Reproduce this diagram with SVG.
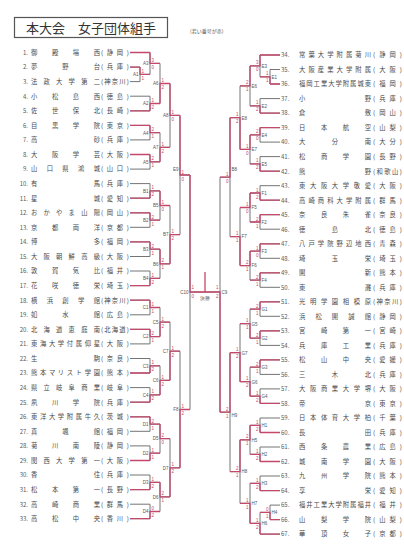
<svg xmlns="http://www.w3.org/2000/svg" width="404" height="554" viewBox="0 0 404 554">
<style>
.g{fill:none;stroke:#747474;stroke-width:1}
.r{fill:none;stroke:#c4486a;stroke-width:1.3}
text{font-family:"Noto Sans CJK JP","Noto Sans",sans-serif}
.no{font-size:6px;fill:#5a5a5a;text-anchor:end}
.nr{font-size:6px;fill:#5a5a5a}
.nm,.pf{font-size:6.3px;fill:#4a4a4a}
.lb{font-family:"Liberation Sans",sans-serif;font-size:4.5px;fill:#555}
.le{text-anchor:end}
.sc{font-family:"Liberation Sans",sans-serif;font-size:4.5px;fill:#c4486a}
</style>
<rect width="404" height="554" fill="#fff"/>
<g id="title">
<rect x="14.5" y="17.5" width="153" height="20" fill="none" stroke="#555" stroke-width="1.2"/>
<text x="91" y="33" font-size="13" fill="#333" text-anchor="middle">本大会　女子団体組手</text>
<text x="190" y="33" font-size="5" fill="#555">(若い番号が赤)</text>
</g>
<g id="connectors">
<path class="g" d="M130 52.5H150M130 67.1H140M130 81.6H140M130 96.2H150M130 110.8H150M130 125.4H150M130 139.9H150M130 154.5H150M130 169.1H150M130 183.6H150M130 198.2H150M130 212.8H150M130 227.3H150M130 241.9H150M130 256.5H150M130 271H150M130 285.6H150M130 300.2H150M130 314.8H150M130 329.3H150M130 343.9H150M130 358.5H150M130 373H150M130 387.6H150M130 402.2H150M130 416.8H150M130 431.3H150M130 445.9H150M130 460.5H150M130 475H150M130 489.6H150M130 504.2H150M130 518.7H150"/>
<path class="g" d="M140 67.1V81.6M140 74.4H150M150 52.5V74.4M150 63.4H160M150 96.2V110.8M150 103.5H160M150 125.4V139.9M150 132.7H160M150 154.5V169.1M150 161.8H160M160 63.4V103.5M160 83.5H170M160 132.7V161.8M160 147.3H170M170 83.5V147.3M170 115.4H180M150 183.6V198.2M150 190.9H160M150 212.8V227.3M150 220.1H160M150 241.9V256.5M150 249.2H160M150 271V285.6M150 278.3H160M160 190.9V220.1M160 205.5H170M160 249.2V278.3M160 263.8H170M170 205.5V263.8M170 234.6H180M180 115.4V234.6M180 175H190M150 300.2V314.8M150 307.5H160M150 329.3V343.9M150 336.6H160M150 358.5V373M150 365.8H160M150 387.6V402.2M150 394.9H160M160 307.5V336.6M160 322.1H170M160 365.8V394.9M160 380.3H170M170 322.1V380.3M170 351.2H180M150 416.8V431.3M150 424.1H160M150 445.9V460.5M150 453.2H160M150 475V489.6M150 482.3H160M150 504.2V518.7M150 511.5H160M160 424.1V453.2M160 438.6H170M160 482.3V511.5M160 496.9H170M170 438.6V496.9M170 467.8H180M180 351.2V467.8M180 409.5H190M190 175V409.5M190 292H220M220 177.2V412.2"/>
<path class="g" d="M280 55H260M280 69.5H270M280 84H270M280 98.6H260M280 113.1H260M280 127.6H260M280 142.1H260M280 156.6H260M280 171.2H260M280 185.7H260M280 200.2H260M280 214.7H260M280 229.2H260M280 243.8H260M280 258.3H260M280 272.8H260M280 287.3H260M280 301.8H260M280 316.3H260M280 330.9H260M280 345.4H260M280 359.9H260M280 374.4H260M280 388.9H260M280 403.4H260M280 418H260M280 432.5H260M280 447H260M280 461.5H260M280 476H260M280 490.6H260M280 505.1H270M280 519.6H270M280 534.1H260"/>
<path class="g" d="M270 69.5V84M270 76.8H260M260 55V76.8M260 65.9H250M260 98.6V113.1M260 105.9H250M260 127.6V142.1M260 134.9H250M260 156.6V171.2M260 163.9H250M250 65.9V105.9M250 85.9H240M250 134.9V163.9M250 149.4H240M240 85.9V149.4M240 117.7H230M260 185.7V200.2M260 193H250M260 214.7V229.2M260 222H250M260 243.8V258.3M260 251.1H250M260 272.8V287.3M260 280.1H250M250 193V222M250 207.5H240M250 251.1V280.1M250 265.6H240M240 207.5V265.6M240 236.6H230M230 117.7V236.6M230 177.2H220M260 301.8V316.3M260 309.1H250M260 330.9V345.4M260 338.2H250M260 359.9V374.4M260 367.2H250M260 388.9V403.4M260 396.2H250M250 309.1V338.2M250 323.7H240M250 367.2V396.2M250 381.7H240M240 323.7V381.7M240 352.7H230M260 418V432.5M260 425.3H250M260 447V461.5M260 454.3H250M260 476V490.6M260 483.3H250M270 505.1V519.6M270 512.4H260M260 512.4V534.1M260 523.3H250M250 425.3V454.3M250 439.8H240M250 483.3V523.3M250 503.3H240M240 439.8V503.3M240 471.6H230M230 352.7V471.6M230 412.2H220"/>
<path class="r" d="M130 52.5H150M130 67.1H140M130 110.8H150M130 125.4H150M130 154.5H150M130 198.2H150M130 212.8H150M130 241.9H150M130 285.6H150M130 300.2H150M130 329.3H150M130 373H150M130 402.2H150M130 416.8H150M130 460.5H150M130 489.6H150M130 518.7H150"/>
<path class="r" d="M140 67.1V74.4H150M150 52.5V63.4H160M150 110.8V103.5H160M150 125.4V132.7H160M150 154.5V161.8H160M160 103.5V83.5H170M160 161.8V147.3H170M170 83.5V115.4H180M150 198.2V190.9H160M150 212.8V220.1H160M150 241.9V249.2H160M150 285.6V278.3H160M160 190.9V205.5H170M160 249.2V263.8H170M170 263.8V234.6H180M180 115.4V175H190M150 300.2V307.5H160M150 329.3V336.6H160M150 373V365.8H160M150 402.2V394.9H160M160 336.6V322.1H170M160 394.9V380.3H170M170 380.3V351.2H180M150 416.8V424.1H160M150 460.5V453.2H160M150 489.6V482.3H160M150 518.7V511.5H160M160 424.1V438.6H170M160 482.3V496.9H170M170 496.9V467.8H180M180 467.8V409.5H190M190 175V292H205"/>
<path class="r" d="M280 55H260M280 84H270M280 113.1H260M280 127.6H260M280 171.2H260M280 200.2H260M280 214.7H260M280 243.8H260M280 272.8H260M280 301.8H260M280 330.9H260M280 359.9H260M280 403.4H260M280 432.5H260M280 461.5H260M280 490.6H260M280 519.6H270M280 534.1H260"/>
<path class="r" d="M270 84V76.8H260M260 55V65.9H250M260 113.1V105.9H250M260 127.6V134.9H250M260 171.2V163.9H250M250 65.9V85.9H240M250 134.9V149.4H240M240 149.4V117.7H230M260 200.2V193H250M260 214.7V222H250M260 243.8V251.1H250M260 272.8V280.1H250M250 193V207.5H240M250 251.1V265.6H240M240 265.6V236.6H230M230 117.7V177.2H220M260 301.8V309.1H250M260 330.9V338.2H250M260 359.9V367.2H250M260 403.4V396.2H250M250 338.2V323.7H240M250 396.2V381.7H240M240 381.7V352.7H230M260 432.5V425.3H250M260 461.5V454.3H250M260 490.6V483.3H250M270 519.6V512.4H260M260 534.1V523.3H250M250 425.3V439.8H240M250 523.3V503.3H240M240 439.8V471.6H230M230 352.7V412.2H220M220 412.2V292H205M205 292V272"/>
</g>
<g id="match-labels">
<text class="lb le" x="138.5" y="76.2">A1</text><text class="lb le" x="148.5" y="65.2">A3</text><text class="lb le" x="148.5" y="105.3">A2</text><text class="lb le" x="148.5" y="134.5">A4</text><text class="lb le" x="148.5" y="163.6">A5</text><text class="lb le" x="158.5" y="85.3">A6</text><text class="lb le" x="158.5" y="149.1">A7</text><text class="lb le" x="168.5" y="117.2">A8</text>
<text class="lb le" x="148.5" y="192.7">B1</text><text class="lb le" x="148.5" y="221.9">B2</text><text class="lb le" x="148.5" y="251">B3</text><text class="lb le" x="148.5" y="280.1">B4</text><text class="lb le" x="158.5" y="207.3">B5</text><text class="lb le" x="158.5" y="265.6">B6</text><text class="lb le" x="168.5" y="236.4">B7</text><text class="lb le" x="178.5" y="171">E9</text>
<text class="lb le" x="148.5" y="309.3">C1</text><text class="lb le" x="148.5" y="338.4">C2</text><text class="lb le" x="148.5" y="367.6">C3</text><text class="lb le" x="148.5" y="396.7">C4</text><text class="lb le" x="158.5" y="323.9">C5</text><text class="lb le" x="158.5" y="382.1">C6</text><text class="lb le" x="168.5" y="353">C7</text>
<text class="lb le" x="148.5" y="425.9">D1</text><text class="lb le" x="148.5" y="455">D2</text><text class="lb le" x="148.5" y="484.1">D3</text><text class="lb le" x="148.5" y="513.3">D4</text><text class="lb le" x="158.5" y="440.4">D5</text><text class="lb le" x="158.5" y="498.7">D6</text><text class="lb le" x="168.5" y="469.6">D7</text><text class="lb le" x="178.5" y="411.3">F8</text>
<text class="lb le" x="188.5" y="294">C10</text><text class="lb" x="221.5" y="294">C9</text><text class="lb" x="205" y="300" text-anchor="middle">決勝</text>
<text class="lb" x="271.5" y="78.6">E1</text><text class="lb" x="261.5" y="67.7">E3</text><text class="lb" x="261.5" y="107.7">E2</text><text class="lb" x="261.5" y="136.7">E4</text><text class="lb" x="261.5" y="165.7">E5</text><text class="lb" x="251.5" y="87.7">E6</text><text class="lb" x="251.5" y="151.2">E7</text><text class="lb" x="241.5" y="119.5">E8</text>
<text class="lb" x="261.5" y="194.8">F1</text><text class="lb" x="261.5" y="223.8">F2</text><text class="lb" x="261.5" y="252.9">F3</text><text class="lb" x="261.5" y="281.9">F4</text><text class="lb" x="251.5" y="209.3">F5</text><text class="lb" x="251.5" y="267.4">F6</text><text class="lb" x="241.5" y="238.4">F7</text><text class="lb" x="231.5" y="171">B8</text>
<text class="lb" x="261.5" y="310.9">G1</text><text class="lb" x="261.5" y="340">G2</text><text class="lb" x="261.5" y="369">G3</text><text class="lb" x="261.5" y="398">G4</text><text class="lb" x="251.5" y="325.5">G5</text><text class="lb" x="251.5" y="383.5">G6</text><text class="lb" x="241.5" y="354.5">G7</text>
<text class="lb" x="261.5" y="427.1">H1</text><text class="lb" x="261.5" y="456.1">H2</text><text class="lb" x="261.5" y="485.1">H3</text><text class="lb" x="271.5" y="514.2">H4</text><text class="lb" x="261.5" y="525.1">H6</text><text class="lb" x="251.5" y="441.6">H5</text><text class="lb" x="251.5" y="505.1">H7</text><text class="lb" x="241.5" y="473.4">H8</text><text class="lb" x="231.5" y="417">H9</text>
</g>
<g id="scores">
<text class="sc" x="141.5" y="72.9">1</text><text class="sc" x="141.5" y="79.9">1</text>
<text class="sc" x="151.5" y="61.9">3</text><text class="sc" x="151.5" y="68.9">0</text>
<text class="sc" x="151.5" y="102">1</text><text class="sc" x="151.5" y="109">2</text>
<text class="sc" x="151.5" y="131.2">2</text><text class="sc" x="151.5" y="138.2">1</text>
<text class="sc" x="151.5" y="160.3">2</text><text class="sc" x="151.5" y="167.3">1</text>
<text class="sc" x="161.5" y="82">1</text><text class="sc" x="161.5" y="89">2</text>
<text class="sc" x="161.5" y="145.8">1</text><text class="sc" x="161.5" y="152.8">2</text>
<text class="sc" x="171.5" y="113.9">1</text><text class="sc" x="171.5" y="120.9">0</text>
<text class="sc" x="151.5" y="189.4">1</text><text class="sc" x="151.5" y="196.4">2</text>
<text class="sc" x="151.5" y="218.6">2</text><text class="sc" x="151.5" y="225.6">1</text>
<text class="sc" x="151.5" y="247.7">2</text><text class="sc" x="151.5" y="254.7">1</text>
<text class="sc" x="151.5" y="276.8">1</text><text class="sc" x="151.5" y="283.8">2</text>
<text class="sc" x="161.5" y="204">1</text><text class="sc" x="161.5" y="211">0</text>
<text class="sc" x="161.5" y="262.3">2</text><text class="sc" x="161.5" y="269.3">1</text>
<text class="sc" x="171.5" y="233.1">1</text><text class="sc" x="171.5" y="240.1">2</text>
<text class="sc" x="181.5" y="173.5">1</text><text class="sc" x="181.5" y="180.5">0</text>
<text class="sc" x="151.5" y="306">1</text><text class="sc" x="151.5" y="313">1</text>
<text class="sc" x="151.5" y="335.1">2</text><text class="sc" x="151.5" y="342.1">1</text>
<text class="sc" x="151.5" y="364.3">1</text><text class="sc" x="151.5" y="371.3">2</text>
<text class="sc" x="151.5" y="393.4">1</text><text class="sc" x="151.5" y="400.4">2</text>
<text class="sc" x="161.5" y="320.6">1</text><text class="sc" x="161.5" y="327.6">2</text>
<text class="sc" x="161.5" y="378.8">1</text><text class="sc" x="161.5" y="385.8">2</text>
<text class="sc" x="171.5" y="349.7">1</text><text class="sc" x="171.5" y="356.7">2</text>
<text class="sc" x="151.5" y="422.6">2</text><text class="sc" x="151.5" y="429.6">1</text>
<text class="sc" x="151.5" y="451.7">1</text><text class="sc" x="151.5" y="458.7">1</text>
<text class="sc" x="151.5" y="480.8">1</text><text class="sc" x="151.5" y="487.8">2</text>
<text class="sc" x="151.5" y="510">0</text><text class="sc" x="151.5" y="517">2</text>
<text class="sc" x="161.5" y="437.1">2</text><text class="sc" x="161.5" y="444.1">0</text>
<text class="sc" x="161.5" y="495.4">2</text><text class="sc" x="161.5" y="502.4">1</text>
<text class="sc" x="171.5" y="466.3">1</text><text class="sc" x="171.5" y="473.3">2</text>
<text class="sc" x="181.5" y="408">1</text><text class="sc" x="181.5" y="415">2</text>
<text class="sc" x="191.5" y="289">1</text><text class="sc" x="191.5" y="298">0</text>
<text class="sc" x="218.5" y="289" text-anchor="end">1</text><text class="sc" x="218.5" y="298" text-anchor="end">2</text>
<g text-anchor="end">
<text class="sc" x="268.5" y="75.3">1</text><text class="sc" x="268.5" y="82.3">1</text>
<text class="sc" x="258.5" y="64.4">3</text><text class="sc" x="258.5" y="71.4">0</text>
<text class="sc" x="258.5" y="104.4">1</text><text class="sc" x="258.5" y="111.4">2</text>
<text class="sc" x="258.5" y="133.4">2</text><text class="sc" x="258.5" y="140.4">0</text>
<text class="sc" x="258.5" y="162.4">1</text><text class="sc" x="258.5" y="169.4">2</text>
<text class="sc" x="248.5" y="84.4">2</text><text class="sc" x="248.5" y="91.4">1</text>
<text class="sc" x="248.5" y="147.9">1</text><text class="sc" x="248.5" y="154.9">0</text>
<text class="sc" x="238.5" y="116.2">1</text><text class="sc" x="238.5" y="123.2">2</text>
<text class="sc" x="258.5" y="191.5">1</text><text class="sc" x="258.5" y="198.5">2</text>
<text class="sc" x="258.5" y="220.5">2</text><text class="sc" x="258.5" y="227.5">1</text>
<text class="sc" x="258.5" y="249.6">1</text><text class="sc" x="258.5" y="256.6">0</text>
<text class="sc" x="258.5" y="278.6">2</text><text class="sc" x="258.5" y="285.6">1</text>
<text class="sc" x="248.5" y="206">1</text><text class="sc" x="248.5" y="213">0</text>
<text class="sc" x="248.5" y="264.1">2</text><text class="sc" x="248.5" y="271.1">1</text>
<text class="sc" x="238.5" y="235.1">1</text><text class="sc" x="238.5" y="242.1">1</text>
<text class="sc" x="228.5" y="175.7">1</text><text class="sc" x="228.5" y="182.7">0</text>
<text class="sc" x="258.5" y="307.6">2</text><text class="sc" x="258.5" y="314.6">1</text>
<text class="sc" x="258.5" y="336.7">2</text><text class="sc" x="258.5" y="343.7">1</text>
<text class="sc" x="258.5" y="365.7">2</text><text class="sc" x="258.5" y="372.7">1</text>
<text class="sc" x="258.5" y="394.7">1</text><text class="sc" x="258.5" y="401.7">2</text>
<text class="sc" x="248.5" y="322.2">1</text><text class="sc" x="248.5" y="329.2">1</text>
<text class="sc" x="248.5" y="380.2">1</text><text class="sc" x="248.5" y="387.2">2</text>
<text class="sc" x="238.5" y="351.2">1</text><text class="sc" x="238.5" y="358.2">2</text>
<text class="sc" x="258.5" y="423.8">1</text><text class="sc" x="258.5" y="430.8">2</text>
<text class="sc" x="258.5" y="452.8">1</text><text class="sc" x="258.5" y="459.8">2</text>
<text class="sc" x="258.5" y="481.8">1</text><text class="sc" x="258.5" y="488.8">2</text>
<text class="sc" x="268.5" y="510.9">0</text><text class="sc" x="268.5" y="517.9">1</text>
<text class="sc" x="258.5" y="521.8">1</text><text class="sc" x="258.5" y="528.8">2</text>
<text class="sc" x="248.5" y="438.3">2</text><text class="sc" x="248.5" y="445.3">1</text>
<text class="sc" x="248.5" y="501.8">1</text><text class="sc" x="248.5" y="508.8">1</text>
<text class="sc" x="238.5" y="470.1">2</text><text class="sc" x="238.5" y="477.1">1</text>
<text class="sc" x="228.5" y="410.7">2</text><text class="sc" x="228.5" y="417.7">1</text>
</g>
</g>
<g id="t1"><text class="no" x="28" y="54.8">1.</text><text class="nm" x="31" y="54.8" textLength="69">御殿場西</text><text class="pf" x="101" y="54.8" textLength="28">(静岡)</text></g>
<g id="t2"><text class="no" x="28" y="69.4">2.</text><text class="nm" x="31" y="69.4" textLength="69">夢野台</text><text class="pf" x="101" y="69.4" textLength="28">(兵庫)</text></g>
<g id="t3"><text class="no" x="28" y="83.9">3.</text><text class="nm" x="31" y="83.9" textLength="69">法政大学第二</text><text class="pf" x="101" y="83.9" textLength="28">(神奈川)</text></g>
<g id="t4"><text class="no" x="28" y="98.5">4.</text><text class="nm" x="31" y="98.5" textLength="69">小松島西</text><text class="pf" x="101" y="98.5" textLength="28">(徳島)</text></g>
<g id="t5"><text class="no" x="28" y="113.1">5.</text><text class="nm" x="31" y="113.1" textLength="69">佐世保北</text><text class="pf" x="101" y="113.1" textLength="28">(長崎)</text></g>
<g id="t6"><text class="no" x="28" y="127.7">6.</text><text class="nm" x="31" y="127.7" textLength="69">目黒学院</text><text class="pf" x="101" y="127.7" textLength="28">(東京)</text></g>
<g id="t7"><text class="no" x="28" y="142.2">7.</text><text class="nm" x="31" y="142.2" textLength="69">高砂</text><text class="pf" x="101" y="142.2" textLength="28">(兵庫)</text></g>
<g id="t8"><text class="no" x="28" y="156.8">8.</text><text class="nm" x="31" y="156.8" textLength="69">大阪学芸</text><text class="pf" x="101" y="156.8" textLength="28">(大阪)</text></g>
<g id="t9"><text class="no" x="28" y="171.4">9.</text><text class="nm" x="31" y="171.4" textLength="69">山口県鴻城</text><text class="pf" x="101" y="171.4" textLength="28">(山口)</text></g>
<g id="t10"><text class="no" x="28" y="185.9">10.</text><text class="nm" x="31" y="185.9" textLength="69">有馬</text><text class="pf" x="101" y="185.9" textLength="28">(兵庫)</text></g>
<g id="t11"><text class="no" x="28" y="200.5">11.</text><text class="nm" x="31" y="200.5" textLength="69">星城</text><text class="pf" x="101" y="200.5" textLength="28">(愛知)</text></g>
<g id="t12"><text class="no" x="28" y="215.1">12.</text><text class="nm" x="31" y="215.1" textLength="69">おかやま山陽</text><text class="pf" x="101" y="215.1" textLength="28">(岡山)</text></g>
<g id="t13"><text class="no" x="28" y="229.6">13.</text><text class="nm" x="31" y="229.6" textLength="69">京都両洋</text><text class="pf" x="101" y="229.6" textLength="28">(京都)</text></g>
<g id="t14"><text class="no" x="28" y="244.2">14.</text><text class="nm" x="31" y="244.2" textLength="69">博多</text><text class="pf" x="101" y="244.2" textLength="28">(福岡)</text></g>
<g id="t15"><text class="no" x="28" y="258.8">15.</text><text class="nm" x="31" y="258.8" textLength="69">大阪朝鮮高級</text><text class="pf" x="101" y="258.8" textLength="28">(大阪)</text></g>
<g id="t16"><text class="no" x="28" y="273.3">16.</text><text class="nm" x="31" y="273.3" textLength="69">敦賀気比</text><text class="pf" x="101" y="273.3" textLength="28">(福井)</text></g>
<g id="t17"><text class="no" x="28" y="287.9">17.</text><text class="nm" x="31" y="287.9" textLength="69">花咲徳栄</text><text class="pf" x="101" y="287.9" textLength="28">(埼玉)</text></g>
<g id="t18"><text class="no" x="28" y="302.5">18.</text><text class="nm" x="31" y="302.5" textLength="69">横浜創学館</text><text class="pf" x="101" y="302.5" textLength="28">(神奈川)</text></g>
<g id="t19"><text class="no" x="28" y="317.1">19.</text><text class="nm" x="31" y="317.1" textLength="69">如水館</text><text class="pf" x="101" y="317.1" textLength="28">(広島)</text></g>
<g id="t20"><text class="no" x="28" y="331.6">20.</text><text class="nm" x="31" y="331.6" textLength="69">北海道恵庭南</text><text class="pf" x="101" y="331.6" textLength="28">(北海道)</text></g>
<g id="t21"><text class="no" x="28" y="346.2">21.</text><text class="nm" x="31" y="346.2" textLength="69">東海大学付属仰星</text><text class="pf" x="101" y="346.2" textLength="28">(大阪)</text></g>
<g id="t22"><text class="no" x="28" y="360.8">22.</text><text class="nm" x="31" y="360.8" textLength="69">生駒</text><text class="pf" x="101" y="360.8" textLength="28">(奈良)</text></g>
<g id="t23"><text class="no" x="28" y="375.3">23.</text><text class="nm" x="31" y="375.3" textLength="69">熊本マリスト学園</text><text class="pf" x="101" y="375.3" textLength="28">(熊本)</text></g>
<g id="t24"><text class="no" x="28" y="389.9">24.</text><text class="nm" x="31" y="389.9" textLength="69">県立岐阜商業</text><text class="pf" x="101" y="389.9" textLength="28">(岐阜)</text></g>
<g id="t25"><text class="no" x="28" y="404.5">25.</text><text class="nm" x="31" y="404.5" textLength="69">夙川学院</text><text class="pf" x="101" y="404.5" textLength="28">(兵庫)</text></g>
<g id="t26"><text class="no" x="28" y="419.1">26.</text><text class="nm" x="31" y="419.1" textLength="69">東洋大学附属牛久</text><text class="pf" x="101" y="419.1" textLength="28">(茨城)</text></g>
<g id="t27"><text class="no" x="28" y="433.6">27.</text><text class="nm" x="31" y="433.6" textLength="69">真颯館</text><text class="pf" x="101" y="433.6" textLength="28">(福岡)</text></g>
<g id="t28"><text class="no" x="28" y="448.2">28.</text><text class="nm" x="31" y="448.2" textLength="69">菊川南陵</text><text class="pf" x="101" y="448.2" textLength="28">(静岡)</text></g>
<g id="t29"><text class="no" x="28" y="462.8">29.</text><text class="nm" x="31" y="462.8" textLength="69">関西大学第一</text><text class="pf" x="101" y="462.8" textLength="28">(大阪)</text></g>
<g id="t30"><text class="no" x="28" y="477.3">30.</text><text class="nm" x="31" y="477.3" textLength="69">香住</text><text class="pf" x="101" y="477.3" textLength="28">(兵庫)</text></g>
<g id="t31"><text class="no" x="28" y="491.9">31.</text><text class="nm" x="31" y="491.9" textLength="69">松本第一</text><text class="pf" x="101" y="491.9" textLength="28">(長野)</text></g>
<g id="t32"><text class="no" x="28" y="506.5">32.</text><text class="nm" x="31" y="506.5" textLength="69">高崎商業</text><text class="pf" x="101" y="506.5" textLength="28">(群馬)</text></g>
<g id="t33"><text class="no" x="28" y="521">33.</text><text class="nm" x="31" y="521" textLength="69">高松中央</text><text class="pf" x="101" y="521" textLength="28">(香川)</text></g>
<g id="t34"><text class="nr" x="281" y="57.3">34.</text><text class="nm" x="299" y="57.3" textLength="72">常葉大学附属菊川</text><text class="pf" x="373" y="57.3" textLength="29">(静岡)</text></g>
<g id="t35"><text class="nr" x="281" y="71.8">35.</text><text class="nm" x="299" y="71.8" textLength="72">大阪産業大学附属</text><text class="pf" x="373" y="71.8" textLength="29">(大阪)</text></g>
<g id="t36"><text class="nr" x="281" y="86.3">36.</text><text class="nm" x="299" y="86.3" textLength="72">福岡工業大学附属城東</text><text class="pf" x="373" y="86.3" textLength="29">(福岡)</text></g>
<g id="t37"><text class="nr" x="281" y="100.9">37.</text><text class="nm" x="299" y="100.9" textLength="72">小野</text><text class="pf" x="373" y="100.9" textLength="29">(兵庫)</text></g>
<g id="t38"><text class="nr" x="281" y="115.4">38.</text><text class="nm" x="299" y="115.4" textLength="72">倉敷</text><text class="pf" x="373" y="115.4" textLength="29">(岡山)</text></g>
<g id="t39"><text class="nr" x="281" y="129.9">39.</text><text class="nm" x="299" y="129.9" textLength="72">日本航空</text><text class="pf" x="373" y="129.9" textLength="29">(山梨)</text></g>
<g id="t40"><text class="nr" x="281" y="144.4">40.</text><text class="nm" x="299" y="144.4" textLength="72">大分南</text><text class="pf" x="373" y="144.4" textLength="29">(大分)</text></g>
<g id="t41"><text class="nr" x="281" y="158.9">41.</text><text class="nm" x="299" y="158.9" textLength="72">松商学園</text><text class="pf" x="373" y="158.9" textLength="29">(長野)</text></g>
<g id="t42"><text class="nr" x="281" y="173.5">42.</text><text class="nm" x="299" y="173.5" textLength="72">熊野</text><text class="pf" x="373" y="173.5" textLength="29">(和歌山)</text></g>
<g id="t43"><text class="nr" x="281" y="188">43.</text><text class="nm" x="299" y="188" textLength="72">東大阪大学敬愛</text><text class="pf" x="373" y="188" textLength="29">(大阪)</text></g>
<g id="t44"><text class="nr" x="281" y="202.5">44.</text><text class="nm" x="299" y="202.5" textLength="72">高崎商科大学附属</text><text class="pf" x="373" y="202.5" textLength="29">(群馬)</text></g>
<g id="t45"><text class="nr" x="281" y="217">45.</text><text class="nm" x="299" y="217" textLength="72">奈良朱雀</text><text class="pf" x="373" y="217" textLength="29">(奈良)</text></g>
<g id="t46"><text class="nr" x="281" y="231.5">46.</text><text class="nm" x="299" y="231.5" textLength="72">徳島北</text><text class="pf" x="373" y="231.5" textLength="29">(徳島)</text></g>
<g id="t47"><text class="nr" x="281" y="246.1">47.</text><text class="nm" x="299" y="246.1" textLength="72">八戸学院野辺地西</text><text class="pf" x="373" y="246.1" textLength="29">(青森)</text></g>
<g id="t48"><text class="nr" x="281" y="260.6">48.</text><text class="nm" x="299" y="260.6" textLength="72">埼玉栄</text><text class="pf" x="373" y="260.6" textLength="29">(埼玉)</text></g>
<g id="t49"><text class="nr" x="281" y="275.1">49.</text><text class="nm" x="299" y="275.1" textLength="72">開新</text><text class="pf" x="373" y="275.1" textLength="29">(熊本)</text></g>
<g id="t50"><text class="nr" x="281" y="289.6">50.</text><text class="nm" x="299" y="289.6" textLength="72">東灘</text><text class="pf" x="373" y="289.6" textLength="29">(兵庫)</text></g>
<g id="t51"><text class="nr" x="281" y="304.1">51.</text><text class="nm" x="299" y="304.1" textLength="72">光明学園相模原</text><text class="pf" x="373" y="304.1" textLength="29">(神奈川)</text></g>
<g id="t52"><text class="nr" x="281" y="318.6">52.</text><text class="nm" x="299" y="318.6" textLength="72">浜松開誠館</text><text class="pf" x="373" y="318.6" textLength="29">(静岡)</text></g>
<g id="t53"><text class="nr" x="281" y="333.2">53.</text><text class="nm" x="299" y="333.2" textLength="72">宮崎第一</text><text class="pf" x="373" y="333.2" textLength="29">(宮崎)</text></g>
<g id="t54"><text class="nr" x="281" y="347.7">54.</text><text class="nm" x="299" y="347.7" textLength="72">兵庫工業</text><text class="pf" x="373" y="347.7" textLength="29">(兵庫)</text></g>
<g id="t55"><text class="nr" x="281" y="362.2">55.</text><text class="nm" x="299" y="362.2" textLength="72">松山中央</text><text class="pf" x="373" y="362.2" textLength="29">(愛媛)</text></g>
<g id="t56"><text class="nr" x="281" y="376.7">56.</text><text class="nm" x="299" y="376.7" textLength="72">三木北</text><text class="pf" x="373" y="376.7" textLength="29">(兵庫)</text></g>
<g id="t57"><text class="nr" x="281" y="391.2">57.</text><text class="nm" x="299" y="391.2" textLength="72">大阪商業大学堺</text><text class="pf" x="373" y="391.2" textLength="29">(大阪)</text></g>
<g id="t58"><text class="nr" x="281" y="405.7">58.</text><text class="nm" x="299" y="405.7" textLength="72">帝京</text><text class="pf" x="373" y="405.7" textLength="29">(東京)</text></g>
<g id="t59"><text class="nr" x="281" y="420.3">59.</text><text class="nm" x="299" y="420.3" textLength="72">日本体育大学柏</text><text class="pf" x="373" y="420.3" textLength="29">(千葉)</text></g>
<g id="t60"><text class="nr" x="281" y="434.8">60.</text><text class="nm" x="299" y="434.8" textLength="72">長田</text><text class="pf" x="373" y="434.8" textLength="29">(兵庫)</text></g>
<g id="t61"><text class="nr" x="281" y="449.3">61.</text><text class="nm" x="299" y="449.3" textLength="72">西条農業</text><text class="pf" x="373" y="449.3" textLength="29">(広島)</text></g>
<g id="t62"><text class="nr" x="281" y="463.8">62.</text><text class="nm" x="299" y="463.8" textLength="72">城南学園</text><text class="pf" x="373" y="463.8" textLength="29">(大阪)</text></g>
<g id="t63"><text class="nr" x="281" y="478.3">63.</text><text class="nm" x="299" y="478.3" textLength="72">九州学院</text><text class="pf" x="373" y="478.3" textLength="29">(熊本)</text></g>
<g id="t64"><text class="nr" x="281" y="492.9">64.</text><text class="nm" x="299" y="492.9" textLength="72">享栄</text><text class="pf" x="373" y="492.9" textLength="29">(愛知)</text></g>
<g id="t65"><text class="nr" x="281" y="507.4">65.</text><text class="nm" x="299" y="507.4" textLength="72">福井工業大学附属福井</text><text class="pf" x="373" y="507.4" textLength="29">(福井)</text></g>
<g id="t66"><text class="nr" x="281" y="521.9">66.</text><text class="nm" x="299" y="521.9" textLength="72">山梨学院</text><text class="pf" x="373" y="521.9" textLength="29">(山梨)</text></g>
<g id="t67"><text class="nr" x="281" y="536.4">67.</text><text class="nm" x="299" y="536.4" textLength="72">華頂女子</text><text class="pf" x="373" y="536.4" textLength="29">(京都)</text></g>
</svg>
